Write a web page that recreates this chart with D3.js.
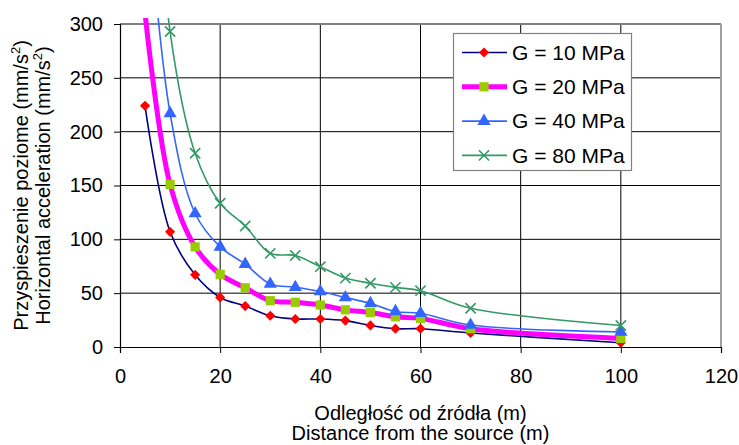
<!DOCTYPE html>
<html>
<head>
<meta charset="utf-8">
<script src="https://cdn.jsdelivr.net/npm/d3@7"></script>
<style>
  body { margin: 0; background: #fff; }
  svg text { font-family: "Liberation Sans", Arial, sans-serif; fill: #000; }
</style>
</head>
<body>
<svg width="739" height="445"></svg>
<script>
// distance from the source (m)
const distances = [5, 10, 15, 20, 25, 30, 35, 40, 45, 50, 55, 60, 70, 100];

// horizontal acceleration (mm/s2), one list per G
const g10 = [224, 107, 67, 46, 38, 29, 26, 26, 24.5, 20, 17, 17, 13, 4];
const g20 = [310, 151, 93, 67.5, 55, 43, 41.5, 39, 34.5, 32, 28, 26.6, 17, 8];
const g40 = [440, 217, 124, 93, 77, 58.5, 55.5, 51.5, 46, 40.5, 33, 31.3, 20.4, 14];
const g80 = [600, 293, 180, 133.5, 112.4, 87, 85, 74.6, 64, 59.2, 55.4, 52.3, 36, 20];

const seriesNames = ['G = 10 MPa', 'G = 20 MPa', 'G = 40 MPa', 'G = 80 MPa'];
const xTicks = [0, 20, 40, 60, 80, 100, 120];
const yTicks = [0, 50, 100, 150, 200, 250, 300];

const svg = d3.select('svg');

const margin = { top: 24, right: 18, bottom: 98, left: 120 };
const width = +svg.attr('width');
const height = +svg.attr('height');
const x0 = margin.left, x1 = width - margin.right;
const y0 = height - margin.bottom, y1 = margin.top;

const xScale = d3.scaleLinear().domain([0, 120]).range([x0, x1]);
const yScale = d3.scaleLinear().domain([0, 300]).range([y0, y1]);

// diamond = square turned 45deg (d3's own diamond is too tall)
const styles = [
    { line: '#000080', lw: 1.6, mark: d3.symbolSquare, size: 52, rot: 45, fill: '#ff0000', stroke: 'none' },
    { line: '#ff00ff', lw: 5, mark: d3.symbolSquare, size: 85, rot: 0, fill: '#99cc00', stroke: 'none' },
    { line: '#3366ff', lw: 1.6, mark: d3.symbolTriangle, size: 75, rot: 0, fill: '#3366ff', stroke: 'none' },
    { line: '#339966', lw: 1.6, mark: d3.symbolX, size: 70, rot: 0, fill: 'none', stroke: '#339966' }
];

const data = [g10, g20, g40, g80].map((vals, i) => ({
    name: seriesNames[i],
    style: styles[i],
    points: distances.map((d, j) => ({ x: d, y: vals[j] }))
}));

// grid
const grid = svg.append('g');
grid.selectAll('line.h').data(yTicks.slice(1, -1))
    .enter().append('line')
    .attr('x1', x0).attr('x2', x1)
    .attr('y1', d => yScale(d)).attr('y2', d => yScale(d))
    .attr('stroke', '#000').attr('stroke-width', 1);
grid.selectAll('line.v').data(xTicks.slice(1, -1))
    .enter().append('line')
    .attr('x1', d => xScale(d)).attr('x2', d => xScale(d))
    .attr('y1', y1).attr('y2', y0)
    .attr('stroke', '#000').attr('stroke-width', 1);
// top + right border in grey
grid.append('line').attr('x1', x0).attr('x2', x1).attr('y1', y1).attr('y2', y1)
    .attr('stroke', '#808080').attr('stroke-width', 2);
grid.append('line').attr('x1', x1).attr('x2', x1).attr('y1', y1).attr('y2', y0)
    .attr('stroke', '#a0a0a0').attr('stroke-width', 2);

// axes
const xAxis = d3.axisBottom(xScale).tickValues(xTicks).tickSizeOuter(0).tickSize(6).tickPadding(16);
const yAxis = d3.axisLeft(yScale).tickValues(yTicks).tickSizeOuter(0).tickSize(6).tickPadding(11);

const gx = svg.append('g').attr('transform', `translate(0,${y0})`).call(xAxis);
const gy = svg.append('g').attr('transform', `translate(${x0},0)`).call(yAxis);
[gx, gy].forEach(g => {
    g.select('.domain').attr('stroke', '#000').attr('stroke-width', 1.2);
    g.selectAll('.tick line').attr('stroke', '#000');
    g.selectAll('.tick text').attr('font-size', 20).attr('font-family', '"Liberation Sans", Arial, sans-serif');
});

// series
svg.append('clipPath').attr('id', 'clip')
    .append('rect').attr('x', x0).attr('y', 18).attr('width', x1 - x0).attr('height', y0 - 18);

const line = d3.line()
    .x(d => xScale(d.x))
    .y(d => yScale(d.y))
    .curve(d3.curveCatmullRom.alpha(0.5));

const plot = svg.append('g').attr('clip-path', 'url(#clip)');

data.forEach(s => {
    plot.append('path')
        .attr('d', line(s.points))
        .attr('fill', 'none')
        .attr('stroke', s.style.line)
        .attr('stroke-width', s.style.lw);
});

data.forEach(s => {
    plot.selectAll(null).data(s.points.filter(p => p.y <= 300))
        .enter().append('path')
        .attr('transform', d => `translate(${xScale(d.x)},${yScale(d.y)}) rotate(${s.style.rot})`)
        .attr('d', d3.symbol().type(s.style.mark).size(s.style.size))
        .attr('fill', s.style.fill)
        .attr('stroke', s.style.stroke)
        .attr('stroke-width', 1.6);
});

// legend
const legend = svg.append('g');
legend.append('rect')
    .attr('x', 453.5).attr('y', 33.5).attr('width', 178).attr('height', 137)
    .attr('fill', '#fff').attr('stroke', '#808080').attr('stroke-width', 1.2);

const item = legend.selectAll('g.item').data(data)
    .enter().append('g')
    .attr('transform', (d, i) => `translate(0,${52.5 + i * 34.3})`);
item.append('line')
    .attr('x1', 462).attr('x2', 507)
    .attr('stroke', d => d.style.line).attr('stroke-width', d => d.style.lw);
item.append('path')
    .attr('transform', d => `translate(484,0) rotate(${d.style.rot})`)
    .attr('d', d => d3.symbol().type(d.style.mark).size(d.style.size)())
    .attr('fill', d => d.style.fill)
    .attr('stroke', d => d.style.stroke)
    .attr('stroke-width', 1.6);
item.append('text')
    .attr('x', 512).attr('dy', '0.35em')
    .attr('font-size', 21)
    .text(d => d.name);

// axis titles
const cx = (x0 + x1) / 2;
svg.append('text').attr('x', cx).attr('y', 420).attr('text-anchor', 'middle')
    .attr('font-size', 20).text('Odległość od źródła (m)');
svg.append('text').attr('x', cx).attr('y', 440).attr('text-anchor', 'middle')
    .attr('font-size', 20).text('Distance from the source (m)');

const cy = (y0 + y1) / 2;
const yTitles = [['Przyspieszenie poziome (mm/s', 28], ['Horizontal acceleration (mm/s', 50]];
yTitles.forEach(([label, bx]) => {
    const t = svg.append('text')
        .attr('transform', `translate(${bx},${cy}) rotate(-90)`)
        .attr('text-anchor', 'middle')
        .attr('font-size', 20);
    t.append('tspan').text(label);
    t.append('tspan').attr('font-size', 13).attr('dy', -8).text('2');
    t.append('tspan').attr('dy', 8).text(')');
});
</script>
</body>
</html>
